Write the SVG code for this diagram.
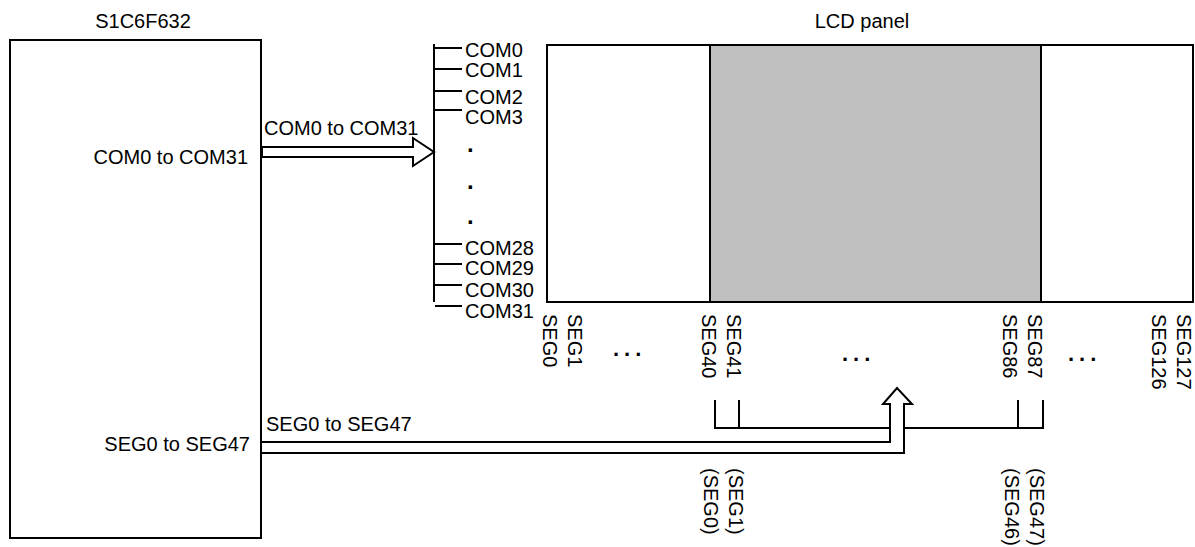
<svg xmlns="http://www.w3.org/2000/svg" width="1195" height="547" viewBox="0 0 1195 547">
<style>
text{font-family:"Liberation Sans",Arial,sans-serif;font-size:20px;fill:#000}
.ln{stroke:#000;stroke-width:2;fill:none}
.box{stroke:#000;stroke-width:2;fill:#fff}
.dot{font-weight:bold;font-size:24px}
.ell{font-weight:bold;font-size:22px;letter-spacing:5px}
</style>
<rect width="1195" height="547" fill="#fff"/>
<g id="chip">
<rect class="box" x="10" y="40" width="251" height="498"/>
<text x="143" y="28" text-anchor="middle">S1C6F632</text>
<text x="248" y="164" text-anchor="end">COM0 to COM31</text>
<text x="250" y="451" text-anchor="end">SEG0 to SEG47</text>
</g>
<g id="lcd">
<rect class="box" x="547" y="45" width="646" height="257"/>
<rect x="710" y="45" width="331" height="257" fill="#c0c0c0" stroke="#000" stroke-width="2"/>
<text x="862" y="28" text-anchor="middle">LCD panel</text>
</g>
<g id="com-labels">
<text x="465" y="57">COM0</text>
<text x="465" y="77">COM1</text>
<text x="465" y="104">COM2</text>
<text x="465" y="124">COM3</text>
<text class="dot" x="467" y="152">.</text>
<text class="dot" x="467" y="189">.</text>
<text class="dot" x="467" y="224">.</text>
<text x="465" y="255">COM28</text>
<text x="465" y="275">COM29</text>
<text x="465" y="297">COM30</text>
<text x="465" y="318">COM31</text>
</g>
<g id="seg-labels">
<text transform="translate(543,314) rotate(90)">SEG0</text>
<text transform="translate(568,314) rotate(90)">SEG1</text>
<text transform="translate(702,314) rotate(90)">SEG40</text>
<text transform="translate(727,314) rotate(90)">SEG41</text>
<text transform="translate(1003,314) rotate(90)">SEG86</text>
<text transform="translate(1028,314) rotate(90)">SEG87</text>
<text transform="translate(1152,314) rotate(90)">SEG126</text>
<text transform="translate(1177,314) rotate(90)">SEG127</text>
<text class="ell" x="613" y="356">...</text>
<text class="ell" x="842" y="361">...</text>
<text class="ell" x="1068" y="361">...</text>
<text transform="translate(704,468) rotate(90)">(SEG0)</text>
<text transform="translate(729,468) rotate(90)">(SEG1)</text>
<text transform="translate(1005,468) rotate(90)">(SEG46)</text>
<text transform="translate(1030,468) rotate(90)">(SEG47)</text>
</g>
<g id="connectors">
<path class="ln" d="M262,147 H413 V138 L434,152 L413,166 V157 H262 Z" fill="#fff"/>
<text x="264" y="135">COM0 to COM31</text>
<path class="ln" d="M434,44 V302"/>
<path class="ln" d="M434,48 H462 M434,69 H462 M434,91 H462 M434,110 H462 M434,244 H462 M434,264 H462 M434,285 H462 M435,306 H462"/>
<path class="ln" d="M261,442 H890 V404 H883 L897,388 L912,404 H904 V453 H261"/>
<text x="266" y="431">SEG0 to SEG47</text>
<path class="ln" d="M715,400 V428 H890 M739,400 V428 M904,428 H1043 V400 M1018,400 V428"/>
</g>
</svg>
